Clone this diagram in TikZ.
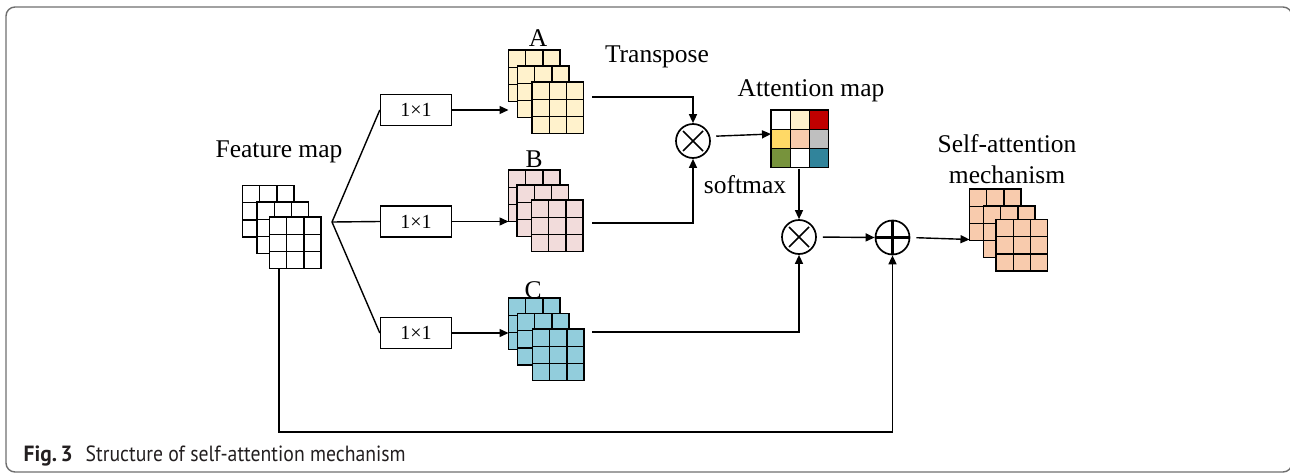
\documentclass[tikz,border=0pt]{standalone}
\usepackage{fontspec}
\setmainfont{Liberation Serif}
\newfontfamily\capfont{PT Sans}
\usetikzlibrary{arrows.meta,calc}
\definecolor{cA}{HTML}{FFF2CC}
\definecolor{cB}{HTML}{F2DCDB}
\definecolor{cC}{HTML}{92CDDC}
\definecolor{cS}{HTML}{F8CBAD}
\definecolor{cRed}{HTML}{C00000}
\definecolor{cGold}{HTML}{FFD966}
\definecolor{cGray}{HTML}{BFBFBF}
\definecolor{cOlive}{HTML}{77933C}
\definecolor{cTeal}{HTML}{31849B}
\definecolor{frameC}{HTML}{6E6E6E}
\definecolor{capC}{HTML}{231F20}
\newcommand\gridlayer[4]{%
  \filldraw[fill=#4,draw=black,line width=1.4pt] (#1,#2) rectangle ++(3*#3,3*#3);
  \foreach \k in {1,2}{%
    \draw[line width=1.4pt] (#1+\k*#3,#2) -- ++(0,3*#3);
    \draw[line width=1.4pt] (#1,#2+\k*#3) -- ++(3*#3,0);}%
}
\newcommand\gridstack[7]{%
  \gridlayer{#1}{#2}{17.2}{#7}
  \gridlayer{#3}{#4}{17.2}{#7}
  \gridlayer{#5}{#6}{17.2}{#7}
}
\begin{document}
\begin{tikzpicture}[x=1pt,y=-1pt,line width=1.4pt,
  arr/.style={-{Triangle[length=9pt,width=8pt]}},
  convbox/.style={draw,line width=1.4pt,minimum width=71pt,minimum height=31pt,inner sep=0pt,font=\fontsize{20}{24}\selectfont},
  op/.style={draw,circle,line width=1.7pt,minimum size=34pt,inner sep=0pt},
  lbl/.style={font=\fontsize{25.5}{30}\selectfont,inner sep=0pt},
  gap/.style={shorten <=6pt}]
\useasboundingbox (0,0) rectangle (1290,474);
\begin{scope}
  \clip (0,0) rectangle (1290,474);
  \draw[line width=1.4pt,draw=frameC,rounded corners=9pt] (6,7) rectangle (1292,472);
\end{scope}

% feature map and branch stacks
\gridstack{242.5}{185.5}{257}{202}{269.5}{217}{white}
\gridstack{508.5}{50}{517.5}{66}{532}{82}{cA}
\gridstack{508.5}{170}{517}{185}{531.5}{200}{cB}
\gridstack{508.5}{298}{517.5}{313.5}{532.5}{329}{cC}
\gridstack{969.5}{189}{983.5}{206}{996}{219.5}{cS}

% attention map
\foreach \r/\cl in {0/{white,cA,cRed},1/{cGold,cS,cGray},2/{cOlive,white,cTeal}}{
  \foreach \c [count=\j from 0] in \cl {
    \filldraw[fill=\c,draw=black,line width=1.4pt] (771+\j*19.2,110+\r*19.2) rectangle ++(19.2,19.2);
  }
}

% labels
\node[lbl,anchor=base] (fmlabel) at (279,157) {Feature map};
\node[lbl,anchor=base] (labA) at (538,46) {A};
\node[lbl,anchor=base] (labB) at (534,167) {B};
\node[lbl,anchor=base] (labC) at (533,298) {C};
\node[lbl,anchor=base] (labT) at (657,62) {Transpose};
\node[lbl,anchor=base] (labAtt) at (811,96) {Attention map};
\node[lbl,anchor=base] (labS1) at (1007,152) {Self-attention};
\node[lbl,anchor=base] (labS2) at (1007,183) {mechanism};
\node[lbl,anchor=base] (labSm) at (745,193) {softmax};

% conv boxes
\node[convbox] (b1) at (416,110) {1\texttimes1};
\node[convbox] (b2) at (416,221.5) {1\texttimes1};
\node[convbox] (b3) at (416,333) {1\texttimes1};

% operators
\node[op] (o1) at (693,141) {};
\node[op] (o2) at (799,237) {};
\node[op] (op) at (892.5,237.5) {};
\foreach \n in {o1,o2}{
  \draw[line width=1.7pt] ($(\n)+(-10,-10)$) -- ($(\n)+(10,10)$);
  \draw[line width=1.7pt] ($(\n)+(-10,10)$) -- ($(\n)+(10,-10)$);
}
\draw[line width=2.2pt] (op.west) -- (op.east);
\draw[line width=2.2pt] (op.north) -- (op.south);

% coordinates
\coordinate (br) at (332,222);
\coordinate (Ain) at (508.5,110);
\coordinate (Aout) at (586,97);
\coordinate (Bout) at (586,223);
\coordinate (Cout) at (586,332);
\coordinate (attin) at (771,134);
\coordinate (attout) at (799,168.6);
\coordinate (Sin) at (969.5,239.5);
\coordinate (fmb) at (279,268.6);
\coordinate (fmturn) at (279,432);

% connectors
\draw (br) -- (b1.west);
\draw (br) -- (b2.west);
\draw (br) -- (b3.west);
\draw[arr] (b1.east) -- (b1.east -| Ain);
\draw[arr] (b2.east) -- (b2.east -| Ain);
\draw[arr] (b3.east) -- (b3.east -| Ain);
\draw[arr,gap] (Aout) -| (o1.north);
\draw[arr,gap] (Bout) -| (o1.south);
\draw[arr,gap] (o1.15) -- (attin);
\draw[arr] (attout) -- (o2.north);
\draw[arr,gap] (Cout) -| (o2.south);
\draw[arr,gap] (o2.east) -- (op.west);
\draw[arr,gap] (op.east) -- (Sin);
\draw[arr] (fmb) -- (fmturn) -| (op.south);

% caption
\node[anchor=base west,inner sep=0pt,text=capC] (capfig) at (23,461) {\resizebox{49pt}{\height}{\capfont\fontsize{22}{26}\selectfont\bfseries Fig.\,3}};
\node[anchor=base west,inner sep=0pt,text=capC] (captext) at (85,461) {\resizebox{320pt}{\height}{\capfont\fontsize{22}{26}\selectfont Structure of self-attention mechanism}};
\end{tikzpicture}
\end{document}
